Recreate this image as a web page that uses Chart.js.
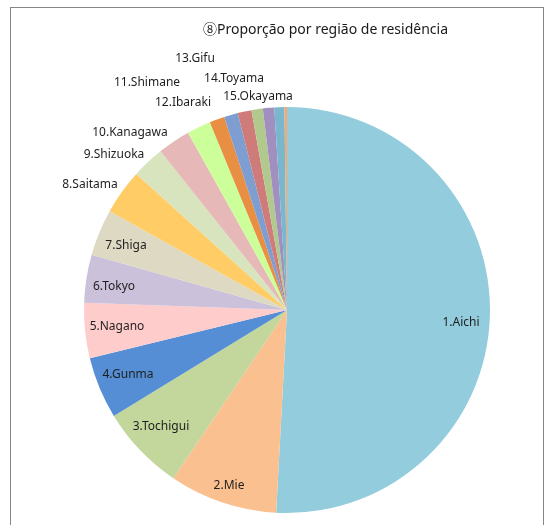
<!DOCTYPE html>
<html>
<head>
<meta charset="utf-8">
<script src="https://cdn.jsdelivr.net/npm/chart.js@4.4.1/dist/chart.umd.min.js"></script>
<style>
  html, body { margin: 0; padding: 0; background: #ffffff; }
  #wrap { position: relative; width: 556px; height: 525px; overflow: hidden; }
  #frame { position: absolute; left: 10px; top: 7px; width: 534px; height: 560px; border: 1px solid #868686; box-sizing: border-box; }
  #title { position: absolute; left: 203px; top: 18px; font-family: "Noto Sans", "Noto Sans CJK JP", sans-serif; font-size: 14px; color: #1a1a1a; white-space: nowrap; }
  canvas { position: absolute; left: 0; top: 0; }
</style>
</head>
<body>
<div id="wrap">
  <div id="frame"></div>
  <canvas id="c" width="556" height="525"></canvas>
  <div id="title">⑧Proporção por região de residência</div>
</div>
<script>
// ---- data ----
const categories = ["1.Aichi", "2.Mie", "3.Tochigui", "4.Gunma", "5.Nagano", "6.Tokyo", "7.Shiga",
  "8.Saitama", "9.Shizuoka", "10.Kanagawa", "11.Shimane", "12.Ibaraki", "13.Gifu", "14.Toyama",
  "15.Okayama", "16", "17", "18"];
const shares = [50.8, 8.6, 6.8, 4.9, 4.4, 3.8, 3.7, 3.6, 2.6, 2.6, 1.9, 1.2, 1.1, 1.1, 0.9, 0.9, 0.8, 0.2];
const shownLabels = ["1.Aichi", "2.Mie", "3.Tochigui", "4.Gunma", "5.Nagano", "6.Tokyo", "7.Shiga",
  "8.Saitama", "9.Shizuoka", "10.Kanagawa", "11.Shimane", "12.Ibaraki", "13.Gifu", "14.Toyama",
  "15.Okayama", "", "", ""];

// ---- styles ----
const sliceColors = ["#93CDDD", "#FAC090", "#C3D69B", "#558ED5", "#FFCCCC", "#CCC1DA", "#DDD9C3",
  "#FFCC66", "#D7E4BD", "#E6B9B8", "#CCFF99", "#E98F44", "#7E9ED1", "#CF7B79", "#B2C98E",
  "#A18FC0", "#78B7CE", "#F9A76D"];
// label offsets relative to the pie centre (text only)
const labelOffsets = [[174, 13], [-58, 176], [-126, 117], [-159, 65], [-170, 17], [-173, -23], [-161, -64],
  [-197, -125], [-173, -155], [-157, -177], [-140, -227], [-104, -207], [-92, -251], [-53, -231],
  [-29, -213], [0, 0], [0, 0], [0, 0]];

const labelPlugin = {
  id: 'sliceLabels',
  afterDatasetsDraw(chart) {
    const ctx = chart.ctx;
    const meta = chart.getDatasetMeta(0);
    ctx.save();
    ctx.font = '12px "Noto Sans", sans-serif';
    ctx.fillStyle = '#1e1e1e';
    ctx.textAlign = 'center';
    ctx.textBaseline = 'middle';
    meta.data.forEach((arc, i) => {
      const txt = shownLabels[i];
      if (!txt) return;
      const o = labelOffsets[i];
      ctx.fillText(txt, arc.x + o[0], arc.y + o[1]);
    });
    ctx.restore();
  }
};

new Chart(document.getElementById('c'), {
  type: 'pie',
  data: {
    labels: categories,
    datasets: [{
      data: shares,
      backgroundColor: sliceColors,
      borderWidth: 0
    }]
  },
  options: {
    responsive: false,
    animation: false,
    layout: { padding: { left: 84, right: 66, top: 107, bottom: 12 } },
    plugins: {
      legend: { display: false },
      tooltip: { enabled: false },
      title: { display: false }
    }
  },
  plugins: [labelPlugin]
});
</script>
</body>
</html>
